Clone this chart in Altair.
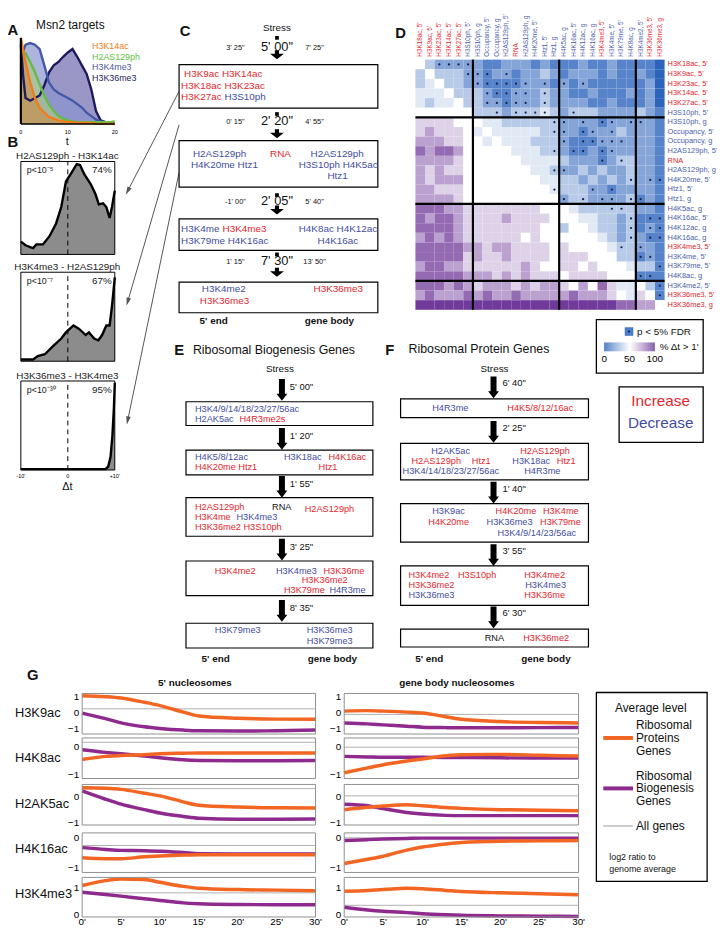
import json
import math
import altair as alt
import pandas as pd

FONT = "Liberation Sans"
W, H, M = 718, 923, 8
RED, BLUE, BLACK = "#e3262d", "#3f4d9f", "#111111"
DBLUE = "#4a5ea8"
ORANGE, PURPLE = "#f26522", "#8e2a8e"
KC = {"u": RED, "d": BLUE, "n": BLACK}

# ---------------- Panel A data ----------------
A_T = [0, 0.5, 1, 2, 3, 4, 5, 6, 7, 8, 9, 10, 11, 12, 13, 14, 15, 16, 17, 18, 19, 20]
A_H3K14AC = [1.0, 0.85, 0.72, 0.48, 0.3, 0.19, 0.13, 0.08, 0.06, 0.04, 0.03, 0.02, 0.02, 0.01, 0.01, 0.01, 0.01, 0.0, 0.0, 0.0, 0.0, 0.0]
A_H2AS129PH = [0.85, 0.84, 0.82, 0.72, 0.6, 0.46, 0.33, 0.22, 0.15, 0.09, 0.06, 0.04, 0.03, 0.02, 0.02, 0.02, 0.02, 0.02, 0.02, 0.02, 0.02, 0.03]
A_H3K4ME3 = [0.77, 0.85, 0.92, 0.94, 0.92, 0.87, 0.68, 0.48, 0.4, 0.36, 0.33, 0.3, 0.27, 0.23, 0.19, 0.13, 0.09, 0.05, 0.03, 0.02, 0.01, 0.0]
A_H3K36ME3 = [0.92, 0.55, 0.3, 0.27, 0.3, 0.33, 0.45, 0.6, 0.68, 0.72, 0.78, 0.83, 0.87, 0.78, 0.68, 0.58, 0.4, 0.15, 0.04, 0.02, 0.01, 0.0]
A_NAMES = ["H3K14ac", "H2AS129ph", "H3K4me3", "H3K36me3"]
A_TICKS = [0, 10, 20]

# ---------------- Panel B data ----------------
B_TITLES = ["H2AS129ph - H3K14ac", "H3K4me3 - H2AS129ph", "H3K36me3 - H3K4me3"]
B_PVAL = ["p<10\u207b\u2075", "p<10\u207b\u2077", "p<10\u207b\u00b3\u2070"]
B_PCT = ["74%", "67%", "95%"]
B1_DT = [-10, -9, -8, -7.4, -6.7, -5.3, -3.9, -2.5, -1.4, -0.4, 0.7, 1.9, 2.6, 3.5, 4.9, 5.9, 6.6, 7.5, 8.2, 8.9, 9.4, 10]
B1_P = [0.14, 0.1, 0.08, 0.07, 0.11, 0.11, 0.2, 0.34, 0.52, 0.8, 0.89, 0.99, 0.98, 0.88, 0.77, 0.66, 0.55, 0.56, 0.52, 0.40, 0.52, 0.70]
B2_DT = [-10, -7.4, -6.4, -4.9, -3.2, -1.4, -0.4, 1.2, 2.4, 3.8, 4.5, 5.6, 6.5, 7.3, 8.2, 8.9, 9.4, 10]
B2_P = [0.02, 0.02, 0.06, 0.08, 0.17, 0.26, 0.33, 0.41, 0.37, 0.30, 0.33, 0.26, 0.24, 0.30, 0.41, 0.41, 0.63, 0.96]
B3_DT = [-10, -5, 0, 5, 8, 8.6, 9.1, 9.5, 9.8, 10]
B3_P = [0.01, 0.01, 0.01, 0.01, 0.01, 0.04, 0.15, 0.4, 0.7, 1.0]
B_XTICKS = [-10, 0, 10]
B_XLABELS = ["-10'", "0", "+10'"]

# ---------------- Panel D data ----------------
D_LABELS = ["H3K18ac, 5'", "H3K9ac, 5'", "H3K23ac, 5'", "H3K14ac, 5'", "H3K27ac, 5'", "H3S10ph, 5'",
            "H3S10ph, g", "Occupancy, 5'", "Occupancy, g", "H2AS129ph, 5'", "RNA", "H2AS129ph, g",
            "H4K20me, 5'", "Htz1, 5'", "Htz1, g", "H4K5ac, g", "H4K16ac, 5'", "H4K12ac, g", "H4K16ac, g",
            "H3K4me3, 5'", "H3K4me, 5'", "H3K79me, 5'", "H4K8ac, g", "H3K4me2, 5'", "H3K36me3, 5'", "H3K36me3, g"]
D_RED = ["H3K18ac, 5'", "H3K9ac, 5'", "H3K23ac, 5'", "H3K14ac, 5'", "H3K27ac, 5'", "RNA",
         "H3K4me3, 5'", "H3K36me3, 5'", "H3K36me3, g"]
D_GROUP_BREAKS = [6, 15, 23]
# % dt > 1' in tenths (0 = strongly blue, 9 = strongly purple)
D_LEVELS = [
    "53222221122212111211211110",
    "35333221221223212221211210",
    "34533221111222121211111120",
    "44453332112223221121112120",
    "43445332212223222211211120",
    "55555533323334323332222321",
    "66665554433333322221222221",
    "67666545444443322122232221",
    "77766554544433321112222221",
    "87887555554443321121222221",
    "77776555555444432221233221",
    "76766555555544322323223221",
    "76777555555554433232323221",
    "77666555555555433322122221",
    "77776555555555523322223121",
    "88877666666665554333333221",
    "87887666676666555443323111",
    "88887666666665535543323121",
    "78787666666565555554323211",
    "88888776776666565555433221",
    "88888676676666566655533121",
    "78877666666765566565554331",
    "88888777676766656666555111",
    "88878767776767765758644531",
    "78777878778777778777654651",
    "99999999999999999999988775",
]
D_SIG = [
    "..****....................",
    ".....***.*................",
    "......******.*.*.*........",
    ".......*****.*............",
    ".......*****.*............",
    "........*.****..*.........",
    "..............**.*.**.**..",
    "..............**.**.*.....",
    "...............*.*****....",
    "..............*.**.**.....",
    "...................*.*....",
    "..............**..........",
    "......................*.**",
    "..............*...*.*.....",
    "...............*.*.**.**..",
    "....................**....",
    "......................*.**",
    "......................*.**",
    "......................*.**",
    ".....................*.*..",
    ".......................**.",
    ".........................*",
    ".......................**.",
    ".........................*",
    ".........................*",
    "..........................",
]
D_LEVEL_VALUE = [0, 10, 21, 33, 43, 50, 61, 73, 86, 98]
D_LEGEND_TICKS = [0, 50, 100]

# ---------------- Panel G data ----------------
G_T = [0, 3, 5, 8, 10, 13, 15, 20, 25, 30]
G_MARKS = ["H3K9ac", "H4K8ac", "H2AK5ac", "H4K16ac", "H3K4me3"]
G_RP = [  # Ribosomal protein genes: [column][row]
    [[1.06, 1.0, 0.92, 0.66, 0.46, 0.06, -0.18, -0.32, -0.37, -0.38],
     [-0.45, -0.34, -0.31, -0.28, -0.25, -0.23, -0.22, -0.22, -0.22, -0.22],
     [0.35, 0.33, 0.29, 0.14, 0.04, -0.19, -0.32, -0.39, -0.42, -0.43],
     [-0.65, -0.68, -0.68, -0.62, -0.59, -0.56, -0.55, -0.55, -0.55, -0.55],
     [1.1, 1.28, 1.34, 1.32, 1.22, 1.07, 1.0, 0.95, 0.93, 0.91]],
    [[0.12, 0.15, 0.12, 0.06, 0.0, -0.22, -0.38, -0.52, -0.58, -0.6],
     [-0.91, -0.74, -0.63, -0.5, -0.43, -0.32, -0.28, -0.27, -0.3, -0.33],
     [-0.49, -0.4, -0.35, -0.3, -0.34, -0.41, -0.44, -0.49, -0.51, -0.53],
     [-0.84, -0.7, -0.6, -0.4, -0.3, -0.2, -0.15, -0.11, -0.1, -0.09],
     [0.89, 0.92, 0.95, 1.0, 0.98, 0.92, 0.88, 0.83, 0.8, 0.76]],
]
G_RB = [  # Ribosomal biogenesis genes
    [[0.0, -0.34, -0.6, -0.84, -0.94, -1.04, -1.08, -1.1, -1.08, -1.04],
     [-0.11, -0.2, -0.25, -0.33, -0.39, -0.46, -0.48, -0.49, -0.49, -0.48],
     [0.23, -0.09, -0.28, -0.49, -0.62, -0.75, -0.82, -0.86, -0.86, -0.85],
     [-0.32, -0.38, -0.41, -0.42, -0.44, -0.48, -0.52, -0.53, -0.53, -0.53],
     [0.85, 0.77, 0.71, 0.61, 0.55, 0.46, 0.43, 0.4, 0.39, 0.39]],
    [[-0.6, -0.66, -0.72, -0.8, -0.86, -0.89, -0.9, -0.9, -0.89, -0.88],
     [-0.34, -0.36, -0.37, -0.37, -0.37, -0.38, -0.38, -0.39, -0.4, -0.4],
     [-0.28, -0.34, -0.45, -0.6, -0.66, -0.71, -0.72, -0.72, -0.72, -0.72],
     [-0.09, -0.06, -0.04, -0.02, -0.01, -0.01, -0.01, -0.01, -0.01, -0.01],
     [0.3, 0.2, 0.15, 0.1, 0.06, 0.02, 0.0, -0.02, -0.03, -0.04]],
]
G_ALL = [[0.26, 0.15, 0.32, -0.25, 0.83], [-0.08, -0.02, 0.04, 0.0, 0.37]]
G_TICKS = [[1, 0, -1], [0, -1], [0, -1], [0, -1], [1, 0]]
G_DOM = [(-1.28, 1.2), (-1.11, 0.3), (-1.08, 0.48), (-1.13, 0.16), (-0.06, 1.4)]
G_XTICKS = [0, 5, 10, 15, 20, 25, 30]

# ---------------- Diagram content ----------------
C_TIMES = [["3' 25\"", "5' 00\"", "7' 25\""], ["0' 15\"", "2' 20\"", "4' 55\""],
           ["-1' 00\"", "2' 05\"", "5' 40\""], ["1' 15\"", "7' 30\"", "13' 50\""]]
C_WORDS = ["H3K9ac H3K14ac", "H3K18ac H3K23ac", "H3K27ac", "H3S10ph",
           "H2AS129ph", "RNA", "H2AS129ph", "H4K20me Htz1", "H3S10ph H4K5ac", "Htz1",
           "H3K4me", "H3K4me3", "H4K8ac H4K12ac", "H3K79me H4K16ac", "H4K16ac",
           "H3K4me2", "H3K36me3", "H3K36me3"]
C_KINDS = ["u", "u", "u", "d", "d", "u", "d", "d", "d", "d", "d", "u", "d", "d", "d", "d", "u", "u"]
E_TITLE = "Ribosomal Biogenesis Genes"
E_TIMES = ["5' 00\"", "1' 20\"", "1' 55\"", "3' 25\"", "8' 35\""]
E_WORDS = ["H3K4/9/14/18/23/27/56ac", "H2AK5ac", "H4R3me2s",
           "H4K5/8/12ac", "H3K18ac", "H4K16ac", "H4K20me Htz1", "Htz1",
           "H2AS129ph", "RNA", "H2AS129ph", "H3K4me", "H3K4me3", "H3K36me2 H3S10ph",
           "H3K4me2", "H3K4me3", "H3K36me", "H3K36me2", "H3K79me", "H4R3me",
           "H3K79me3", "H3K36me3", "H3K79me3"]
E_KINDS = ["d", "d", "u", "d", "d", "u", "u", "u", "u", "n", "u", "u", "d", "u",
           "u", "d", "u", "u", "u", "d", "d", "d", "d"]
F_TITLE = "Ribosomal Protein Genes"
F_TIMES = ["6' 40\"", "2' 25\"", "1' 40\"", "3' 55\"", "6' 30\""]
F_WORDS = ["H4R3me", "H4K5/8/12/16ac",
           "H2AK5ac", "H2AS129ph", "H2AS129ph", "Htz1", "H3K18ac", "Htz1", "H3K4/14/18/23/27/56ac", "H4R3me",
           "H3K9ac", "H4K20me", "H3K4me", "H4K20me", "H3K36me3", "H3K79me", "H3K4/9/14/23/56ac",
           "H3K4me2", "H3S10ph", "H3K4me2", "H3K36me2", "H3K4me3", "H3K36me3", "H3K36me",
           "RNA", "H3K36me2"]
F_KINDS = ["d", "u", "d", "u", "u", "u", "d", "u", "d", "d",
           "d", "u", "u", "u", "d", "u", "d",
           "u", "u", "u", "u", "d", "d", "u", "n", "u"]

# ---------------- Layout (reference-pixel positions) ----------------
C_XY = [(186, 70), (183, 82), (183, 93), (227, 93),
        (195, 150), (273, 150), (314, 150), (193, 162), (302, 162), (331, 173),
        (183, 226), (225, 226), (302, 226), (183, 238), (321, 238),
        (204, 287), (202, 299), (317, 287)]
C_BOX_X = (181, 382)
C_BOX_Y = [(60, 104), (137, 184), (216, 248), (280, 311)]
C_TIME_Y = [43, 118, 199, 260]
C_TIME_X = [238, 280, 318]
C_SQ_Y = [33, 110, 192, 252]
C_ARROW_Y = [50, 130, 207, 270]
E_XY = [(197, 408), (197, 418), (242, 418),
        (197, 457), (287, 457), (332, 457), (197, 467), (322, 467),
        (197, 507), (275, 507), (308, 509), (197, 518), (239, 518), (197, 528),
        (217, 572), (279, 572), (327, 572), (305, 581), (287, 591), (333, 591),
        (217, 632), (310, 632), (310, 643)]
E_BOX_X = (188, 377)
E_BOX_Y = [(401, 425), (450, 475), (498, 537), (562, 597), (625, 650)]
E_ARROW = [(377, 401), (427, 450), (476, 498), (539, 562), (600, 625)]
E_AX = 285
F_XY = [(437, 407), (513, 407),
        (436, 451), (526, 451), (416, 461), (477, 461), (518, 461), (563, 461), (407, 471), (530, 471),
        (437, 512), (501, 512), (549, 512), (433, 523), (492, 523), (546, 523), (503, 534),
        (413, 576), (463, 576), (530, 576), (413, 586), (531, 586), (413, 596), (530, 596),
        (490, 640), (529, 640)]
F_BOX_X = (405, 595)
F_BOX_Y = [(398, 417), (443, 480), (504, 543), (567, 607), (631, 649)]
F_ARROW = [(375, 398), (420, 443), (482, 504), (545, 567), (607, 631)]
F_AX = 499
A_BOX = (21, 116, 33, 120)
B_BOX = [(21, 116, 158, 252), (21, 116, 270, 360), (21, 116, 380, 470)]
D_BOX = (420, 672, 55, 308)
G_XR = [(83, 319), (348, 585)]
G_YR = [(696, 737), (741, 782), (788, 829), (837, 877), (882, 922)]

CX = alt.Scale(domain=[0, W + M], range=[-M, W], nice=False, zero=False)
CY = alt.Scale(domain=[0, H + M], range=[-M, H], nice=False, zero=False)


def sx(a, b):
    return [a - M, b - M]


def sy(top, bottom):
    return [bottom - M, top - M]


def ctext(words, colors, xy, size, weight="normal", align="left", baseline="middle"):
    df = pd.DataFrame({"x": [p[0] for p in xy], "y": [p[1] for p in xy], "t": words, "c": colors})
    return alt.Chart(df).mark_text(align=align, baseline=baseline, font=FONT, fontSize=size,
                                   fontWeight=weight).encode(
        x=alt.X("x:Q", scale=CX, axis=None), y=alt.Y("y:Q", scale=CY, axis=None),
        text=alt.Text("t:N"), color=alt.Color("c:N", scale=None))


def crects(rects, stroke="black", sw=1.2, fill="white", fo=1.0):
    df = pd.DataFrame(rects, columns=["x0", "x1", "y0", "y1"])
    return alt.Chart(df).mark_rect(fill=fill, fillOpacity=fo, stroke=stroke, strokeWidth=sw).encode(
        x=alt.X("x0:Q", scale=CX, axis=None), x2="x1:Q",
        y=alt.Y("y0:Q", scale=CY, axis=None), y2="y1:Q")


def csym(xy, shape, size, color="black", angles=None):
    df = pd.DataFrame({"x": [p[0] for p in xy], "y": [p[1] for p in xy],
                       "a": angles if angles is not None else [0] * len(xy)})
    return alt.Chart(df).mark_point(shape=shape, size=size, filled=True, color=color, opacity=1,
                                    strokeWidth=0).encode(
        x=alt.X("x:Q", scale=CX, axis=None), y=alt.Y("y:Q", scale=CY, axis=None),
        angle=alt.Angle("a:Q", scale=None))


def csegs(segs, color, sw):
    df = pd.DataFrame(segs, columns=["x0", "y0", "x1", "y1"])
    return alt.Chart(df).mark_rule(color=color, strokeWidth=sw).encode(
        x=alt.X("x0:Q", scale=CX, axis=None), x2="x1:Q",
        y=alt.Y("y0:Q", scale=CY, axis=None), y2="y1:Q")


def xlabels(values, labels, xscale, ypix, size):
    """tick labels placed through a panel's own x scale"""
    df = pd.DataFrame({"v": values, "t": labels, "y": [ypix] * len(values)})
    return alt.Chart(df).mark_text(font=FONT, fontSize=size, align="center", baseline="middle",
                                   color="black").encode(
        x=alt.X("v:Q", scale=xscale, axis=None), y=alt.Y("y:Q", scale=CY, axis=None), text="t:N")


def ylabels(values, labels, yscale, xpix, size):
    df = pd.DataFrame({"v": values, "t": labels, "x": [xpix] * len(values)})
    return alt.Chart(df).mark_text(font=FONT, fontSize=size, align="right", baseline="middle",
                                   color="black").encode(
        y=alt.Y("v:Q", scale=yscale, axis=None), x=alt.X("x:Q", scale=CX, axis=None), text="t:N")


layers = []

# ---------- connectors between C and B ----------
CONNECT = [(181, 87, 129, 188), (181, 121, 129, 300), (181, 169, 129, 420)]
layers.append(csegs(CONNECT, "#555555", 1))
heads, angs = [], []
for x0, y0, x1, y1 in CONNECT:
    heads.append((x1, y1))
    angs.append(math.degrees(math.atan2(x1 - x0, -(y1 - y0))) % 360)
layers.append(csym(heads, "M0,-1L0.55,1L-0.55,1Z", 70, "#555555", angs))

# ---------- Panel A ----------
ax0, ax1, ay0, ay1 = A_BOX
a_xs = alt.Scale(domain=[0, 20], range=sx(ax0, ax1), nice=False, zero=False)
a_ys = alt.Scale(domain=[0, 1.0], range=sy(ay0, ay1), nice=False, zero=False)
a_series = {"H3K14ac": A_H3K14AC, "H2AS129ph": A_H2AS129PH, "H3K4me3": A_H3K4ME3, "H3K36me3": A_H3K36ME3}
a_fill = {"H3K36me3": "#6f6aae", "H3K4me3": "#8a94cf", "H2AS129ph": "#a8c88a", "H3K14ac": "#c9924f"}
a_line = {"H3K36me3": "#1d1b5e", "H3K4me3": "#4458aa", "H2AS129ph": "#66bb46", "H3K14ac": "#f07d1b"}
a_parts = []
for name in ["H3K36me3", "H3K4me3", "H2AS129ph", "H3K14ac"]:
    df = pd.DataFrame({"t": A_T, "v": a_series[name]})
    a_parts.append(alt.Chart(df).mark_area(color=a_fill[name], opacity=0.7).encode(
        x=alt.X("t:Q", scale=a_xs, axis=None), y=alt.Y("v:Q", scale=a_ys, axis=None)))
for name in ["H3K36me3", "H3K4me3", "H2AS129ph", "H3K14ac"]:
    df = pd.DataFrame({"t": A_T, "v": a_series[name]})
    a_parts.append(alt.Chart(df).mark_line(color=a_line[name], strokeWidth=2.4).encode(
        x=alt.X("t:Q", scale=a_xs, axis=None), y=alt.Y("v:Q", scale=a_ys, axis=None)))
ax_df = pd.DataFrame({"a": [0], "b": [20], "lo": [0], "hi": [1.0]})
a_parts.append(alt.Chart(ax_df).mark_rule(color="black", strokeWidth=1.5).encode(
    x=alt.X("a:Q", scale=a_xs, axis=None), x2="b:Q", y=alt.Y("lo:Q", scale=a_ys, axis=None)))
a_parts.append(alt.Chart(ax_df).mark_rule(color="black", strokeWidth=2.2).encode(
    x=alt.X("a:Q", scale=a_xs, axis=None), y=alt.Y("lo:Q", scale=a_ys, axis=None), y2="hi:Q"))
layers.append(alt.layer(*a_parts))
layers.append(xlabels(A_TICKS, [str(v) for v in A_TICKS], a_xs, 128, 5.5))

# ---------- Panel B ----------
B_DATA = [(B1_DT, B1_P), (B2_DT, B2_P), (B3_DT, B3_P)]
for i, (dts, ps) in enumerate(B_DATA):
    bx0, bx1, by0, by1 = B_BOX[i]
    xs = alt.Scale(domain=[-10, 10], range=sx(bx0, bx1), nice=False, zero=False)
    ys = alt.Scale(domain=[0, 1.02], range=sy(by0, by1), nice=False, zero=False)
    df = pd.DataFrame({"dt": dts, "p": ps})
    area = alt.Chart(df).mark_area(color="#8c8c8c", opacity=1).encode(
        x=alt.X("dt:Q", scale=xs, axis=None), y=alt.Y("p:Q", scale=ys, axis=None))
    line = alt.Chart(df).mark_line(color="black", strokeWidth=2.4).encode(
        x=alt.X("dt:Q", scale=xs, axis=None), y=alt.Y("p:Q", scale=ys, axis=None))
    fr = pd.DataFrame({"a": [-10], "b": [10], "lo": [0], "hi": [1.02]})
    frame = alt.Chart(fr).mark_rect(fill="white", fillOpacity=0, stroke="black", strokeWidth=1).encode(
        x=alt.X("a:Q", scale=xs, axis=None), x2="b:Q", y=alt.Y("lo:Q", scale=ys, axis=None), y2="hi:Q")
    dash = alt.Chart(pd.DataFrame({"z": [0], "lo": [0], "hi": [1.02]})).mark_rule(
        color="black", strokeWidth=1, strokeDash=[5, 4]).encode(
        x=alt.X("z:Q", scale=xs, axis=None), y=alt.Y("lo:Q", scale=ys, axis=None), y2="hi:Q")
    layers.append(alt.layer(area, dash, line, frame))
    if i == 2:
        layers.append(xlabels(B_XTICKS, B_XLABELS, xs, by1 + 6, 5.5))

# ---------- Panel D heatmap ----------
rows = []
for i, lab_r in enumerate(D_LABELS):
    for j, lab_c in enumerate(D_LABELS):
        rows.append({"row": lab_r, "col": lab_c, "v": D_LEVEL_VALUE[int(D_LEVELS[i][j])],
                     "sig": 1 if D_SIG[i][j] == "*" else 0})
dfD = pd.DataFrame(rows)
dx0, dx1, dy0, dy1 = D_BOX
d_xs = alt.Scale(domain=D_LABELS, range=sx(dx0, dx1), paddingInner=0, paddingOuter=0)
d_ys = alt.Scale(domain=D_LABELS, range=[dy0 - M, dy1 - M], paddingInner=0, paddingOuter=0)
cscale = alt.Scale(domain=[0, 50, 100], range=["#2c64bb", "#ffffff", "#6a3296"], interpolate="rgb")
cells = alt.Chart(dfD).mark_rect().encode(
    x=alt.X("col:N", scale=d_xs, axis=None), y=alt.Y("row:N", scale=d_ys, axis=None),
    color=alt.Color("v:Q", scale=cscale, legend=None))
dots = alt.Chart(dfD).transform_filter("datum.sig == 1").mark_point(
    filled=True, size=5, color="#14224f", opacity=1).encode(
    x=alt.X("col:N", scale=d_xs, axis=None), y=alt.Y("row:N", scale=d_ys, axis=None))
layers.append(alt.layer(cells, dots))
lab_df = pd.DataFrame({"lab": D_LABELS, "c": [RED if l in D_RED else DBLUE for l in D_LABELS],
                       "ytop": [dy0 - 3] * len(D_LABELS), "xr": [dx1 + 3] * len(D_LABELS)})
layers.append(alt.Chart(lab_df).mark_text(font=FONT, fontSize=6.4, angle=270, align="left",
                                          baseline="middle").encode(
    x=alt.X("lab:N", scale=d_xs, axis=None), y=alt.Y("ytop:Q", scale=CY, axis=None),
    text="lab:N", color=alt.Color("c:N", scale=None)))
layers.append(alt.Chart(lab_df).mark_text(font=FONT, fontSize=7.5, align="left",
                                          baseline="middle").encode(
    y=alt.Y("lab:N", scale=d_ys, axis=None), x=alt.X("xr:Q", scale=CX, axis=None),
    text="lab:N", color=alt.Color("c:N", scale=None)))
n = len(D_LABELS)
sep_xs = alt.Scale(domain=[0, n], range=sx(dx0, dx1), nice=False, zero=False)
sep_ys = alt.Scale(domain=[0, n], range=[dy0 - M, dy1 - M], nice=False, zero=False)
vsep = pd.DataFrame({"b": D_GROUP_BREAKS, "lo": [0] * 3, "hi": [n] * 3})
layers.append(alt.layer(
    alt.Chart(vsep).mark_rule(color="black", strokeWidth=2.2).encode(
        x=alt.X("b:Q", scale=sep_xs, axis=None), y=alt.Y("lo:Q", scale=sep_ys, axis=None), y2="hi:Q"),
    alt.Chart(vsep).mark_rule(color="black", strokeWidth=2.2).encode(
        y=alt.Y("b:Q", scale=sep_ys, axis=None), x=alt.X("lo:Q", scale=sep_xs, axis=None), x2="hi:Q"),
))

# D legend box + gradient
layers.append(crects([(603, 711, 318, 372), (626, 711, 386, 442)], sw=1.3))
grad = pd.DataFrame({"v": list(range(0, 100, 2)), "v2": list(range(2, 102, 2)),
                     "y0": [341] * 50, "y1": [350] * 50})
g_xs = alt.Scale(domain=[0, 100], range=sx(611, 662), nice=False, zero=False)
layers.append(alt.Chart(grad).mark_rect().encode(
    x=alt.X("v:Q", scale=g_xs, axis=None), x2="v2:Q",
    y=alt.Y("y0:Q", scale=CY, axis=None), y2="y1:Q",
    color=alt.Color("v:Q", scale=cscale, legend=None)))
layers.append(xlabels(D_LEGEND_TICKS, [str(v) for v in D_LEGEND_TICKS], g_xs, 358, 10))
layers.append(crects([(632, 640, 326, 334)], stroke="#2c64bb", sw=0.5, fill="#4a7fcf"))
layers.append(csym([(636, 330)], "circle", 5, "#14224f"))

# ---------- Panel G ----------
for c in range(2):
    for r in range(5):
        x0, x1 = G_XR[c]
        yt, yb = G_YR[r]
        lo, hi = G_DOM[r]
        xs = alt.Scale(domain=[0, 30], range=sx(x0, x1), nice=False, zero=False)
        ys = alt.Scale(domain=[lo, hi], range=sy(yt, yb), nice=False, zero=False)
        fr = pd.DataFrame({"a": [0], "b": [30], "lo": [lo], "hi": [hi]})
        frame = alt.Chart(fr).mark_rect(fill="white", fillOpacity=0, stroke="#8f8f8f", strokeWidth=1).encode(
            x=alt.X("a:Q", scale=xs, axis=None), x2="b:Q", y=alt.Y("lo:Q", scale=ys, axis=None), y2="hi:Q")
        allg = alt.Chart(pd.DataFrame({"a": [0], "b": [30], "v": [G_ALL[c][r]]})).mark_rule(
            color="#b0b0b0", strokeWidth=1).encode(
            x=alt.X("a:Q", scale=xs, axis=None), x2="b:Q", y=alt.Y("v:Q", scale=ys, axis=None))
        pur = alt.Chart(pd.DataFrame({"t": G_T, "v": G_RB[c][r]})).mark_line(
            color=PURPLE, strokeWidth=3.5, interpolate="monotone").encode(
            x=alt.X("t:Q", scale=xs, axis=None), y=alt.Y("v:Q", scale=ys, axis=None))
        ora = alt.Chart(pd.DataFrame({"t": G_T, "v": G_RP[c][r]})).mark_line(
            color=ORANGE, strokeWidth=3.5, interpolate="monotone").encode(
            x=alt.X("t:Q", scale=xs, axis=None), y=alt.Y("v:Q", scale=ys, axis=None))
        layers.append(alt.layer(allg, pur, ora, frame))
        layers.append(ylabels(G_TICKS[r], [str(v).replace("-", "\u2212") for v in G_TICKS[r]],
                              ys, x0 - 3, 10))
        if r == 4:
            layers.append(xlabels(G_XTICKS, [f"{v}'" for v in G_XTICKS], xs, yb + 5, 10))

# G legend
layers.append(crects([(603, 715, 695, 886)], sw=1.3))
layers.append(csegs([(610, 741, 640, 741)], ORANGE, 4))
layers.append(csegs([(610, 792, 640, 792)], PURPLE, 4))
layers.append(csegs([(610, 830, 640, 830)], "#9a9a9a", 1))

# ---------- Diagram boxes & arrows ----------
layers.append(crects([(C_BOX_X[0], C_BOX_X[1], a, b) for a, b in C_BOX_Y]))
layers.append(crects([(E_BOX_X[0], E_BOX_X[1], a, b) for a, b in E_BOX_Y]))
layers.append(crects([(F_BOX_X[0], F_BOX_X[1], a, b) for a, b in F_BOX_Y]))
layers.append(csym([(280, y) for y in C_SQ_Y], "square", 14))
layers.append(csym([(280, y) for y in C_ARROW_Y],
                   "M-0.3,-0.65L0.3,-0.65L0.3,-0.15L1,-0.15L0,0.65L-1,-0.15L-0.3,-0.15Z", 196))
EF_ARROW = "M-0.55,-2L0.55,-2L0.55,0.7L1,0.7L0,2L-1,0.7L-0.55,0.7Z"
layers.append(csym([(E_AX, (a + b) / 2) for a, b in E_ARROW] + [(F_AX, (a + b) / 2) for a, b in F_ARROW],
                   EF_ARROW, 121))

# ---------- Texts ----------
layers.append(ctext(list("ABCDEFG"), [BLACK] * 7,
                    [(13, 25), (13, 138), (187, 26), (405, 28), (181, 349), (394, 349), (33, 677)],
                    15, "bold", "center"))
layers.append(ctext(["Msn2 targets"], [BLACK], [(71, 20)], 12, align="center"))
layers.append(ctext(A_NAMES, ["#f07d1b", "#5fbf3f", "#4d57a8", "#1d1b5e"],
                    [(93, 41), (93, 52), (93, 63), (93, 74)], 9))
layers.append(ctext(["t", "\u0394t"], [BLACK] * 2, [(68, 138), (68, 487)], 11, align="center"))
layers.append(ctext(B_TITLES, ["#222222"] * 3, [(68, 153), (68, 265), (68, 375)], 10, align="center"))
layers.append(ctext(B_PVAL, ["#222222"] * 3, [(27, 167), (27, 279), (27, 389)], 9))
layers.append(ctext(B_PCT, ["#222222"] * 3, [(113, 167), (113, 279), (113, 389)], 10, align="right"))
layers.append(ctext(["Stress"], [BLACK], [(280, 23)], 10, align="center"))
small_t, small_xy, big_t, big_xy = [], [], [], []
for k, trio in enumerate(C_TIMES):
    small_t += [trio[0], trio[2]]
    small_xy += [(C_TIME_X[0], C_TIME_Y[k]), (C_TIME_X[2], C_TIME_Y[k])]
    big_t.append(trio[1])
    big_xy.append((C_TIME_X[1], C_TIME_Y[k] - 1))
layers.append(ctext(small_t, [BLACK] * len(small_t), small_xy, 7.5, align="center"))
layers.append(ctext(big_t, [BLACK] * len(big_t), big_xy, 13, align="center"))
layers.append(ctext(C_WORDS, [KC[k] for k in C_KINDS], C_XY, 10))
layers.append(ctext(["5' end", "gene body"] * 3, [BLACK] * 6,
                    [(216, 319), (333, 319), (218, 661), (336, 661), (434, 661), (552, 661)],
                    10, "bold", "center"))
layers.append(ctext([E_TITLE, F_TITLE], [BLACK] * 2, [(195, 349), (413, 348)], 12.5))
layers.append(ctext(["Stress", "Stress"], [BLACK] * 2, [(283, 368), (500, 368)], 10, align="center"))
layers.append(ctext(E_TIMES + F_TIMES, [BLACK] * 10,
                    [(E_AX + 8, (a + b) / 2 - 3) for a, b in E_ARROW] +
                    [(F_AX + 9, (a + b) / 2 - 4) for a, b in F_ARROW], 9.5))
layers.append(ctext(E_WORDS, [KC[k] for k in E_KINDS], E_XY, 9.3))
layers.append(ctext(F_WORDS, [KC[k] for k in F_KINDS], F_XY, 9.3))
layers.append(ctext(["p < 5% FDR", "% \u0394t > 1'"], [BLACK] * 2, [(644, 330), (667, 346)], 10))
layers.append(ctext(["Increase", "Decrease"], [RED, BLUE], [(668, 400), (668, 423)], 15.5, align="center"))
layers.append(ctext(G_MARKS, [BLACK] * 5, [(15, 716), (15, 761), (15, 808), (15, 853), (15, 899)], 13))
layers.append(ctext(["5' nucleosomes", "gene body nucleosomes"], [BLACK] * 2, [(197, 685), (462, 685)],
                    10, "bold", "center"))
layers.append(ctext(["Average level"], [BLACK], [(658, 711)], 12, align="center"))
layers.append(ctext(["Ribosomal", "Proteins", "Genes", "Ribosomal", "Biogenesis", "Genes", "All genes"],
                    [BLACK] * 7, [(643, 728), (643, 741), (643, 754), (643, 779), (643, 792), (643, 805),
                                  (643, 830)], 12))
layers.append(ctext(["log2 ratio to", "genome average"], [BLACK] * 2, [(616, 861), (616, 874)], 9))

chart = alt.layer(*layers).resolve_scale(
    x="independent", y="independent", color="independent", angle="independent"
).properties(
    width=W, height=H, padding=0, background="white",
    autosize=alt.AutoSizeParams(type="none"),
).configure_view(stroke=None)

chart.save("out.html", embed_options={"renderer": "svg", "actions": False})
